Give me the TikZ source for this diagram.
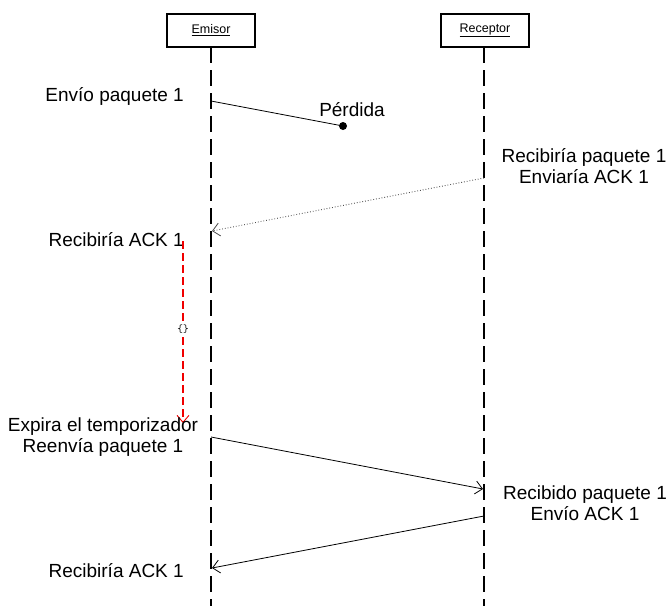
\documentclass[tikz,border=0pt]{standalone}
\usepackage{fontspec}
\setmainfont{Liberation Sans}
\usetikzlibrary{arrows.meta}
\definecolor{timerred}{RGB}{240,0,0}
\begin{document}
\begin{tikzpicture}[x=1pt,y=-1pt,
  actor/.style={draw,line width=1.3pt,minimum width=88pt,minimum height=33pt,inner sep=0pt,font=\fontsize{12.5}{14}\selectfont},
  lifeline/.style={line width=2pt,dash pattern=on 16pt off 7pt},
  lbl/.style={inner sep=0pt,font=\fontsize{19}{21.5}\selectfont,align=center},
  msg/.style={line width=0.8pt,-{Straight Barb[length=7pt,width=13pt,line width=0.8pt]}},
  lost/.style={line width=0.8pt},
  timer/.style={color=timerred,line width=1.2pt,dash pattern=on 8pt off 4pt,-{Straight Barb[length=7pt,width=12pt,line width=0.9pt]}}]
\useasboundingbox (0,0) rectangle (670,606);
\node[actor] (em) at (211,30.5) {\underline{Emisor}};
\node[actor] (re) at (485,30.5) {\underline{Receptor}};
\coordinate (emtop) at (211,47);
\coordinate (embot) at (211,606);
\coordinate (retop) at (484,47);
\coordinate (rebot) at (484,606);
\draw[lifeline] (emtop) -- (embot);
\draw[lifeline] (retop) -- (rebot);
% message 1 lost
\coordinate (m1s) at (211,101);
\node[circle,fill,inner sep=0pt,minimum size=8pt] (lostdot) at (343,126) {};
\draw[lost] (m1s) -- (lostdot.center);
\node[lbl,anchor=east] (t1) at (184,96) {Envío paquete 1};
\node[lbl] (t2) at (352,110) {Pérdida};
% dotted ack
\coordinate (m2s) at (484,178);
\coordinate (m2e) at (212,231);
\draw[msg,dotted,line width=0.9pt,gray!60!black] (m2s) -- (m2e);
\node[lbl] (t3) at (584,166) {Recibiría paquete 1\\Enviaría ACK 1};
\node[lbl,anchor=east] (t4) at (184,240) {Recibiría ACK 1};
% timer
\coordinate (ts) at (183,241);
\coordinate (te) at (183,423);
\draw[timer] (ts) -- (te);
\node[inner sep=1pt,fill=white,font=\fontsize{11}{12}\ttfamily] (tl) at (183,329) {\{\}};
\node[lbl] (t5) at (103,437) {Expira el temporizador\\Reenvía paquete 1};
% resend
\coordinate (m3s) at (211,437);
\coordinate (m3e) at (483,489);
\draw[msg] (m3s) -- (m3e);
\node[lbl] (t6) at (585,503) {Recibido paquete 1\\Envío ACK 1};
\coordinate (m4s) at (484,516);
\coordinate (m4e) at (212,568);
\draw[msg] (m4s) -- (m4e);
\node[lbl,anchor=east] (t7) at (184,571) {Recibiría ACK 1};
\end{tikzpicture}
\end{document}
